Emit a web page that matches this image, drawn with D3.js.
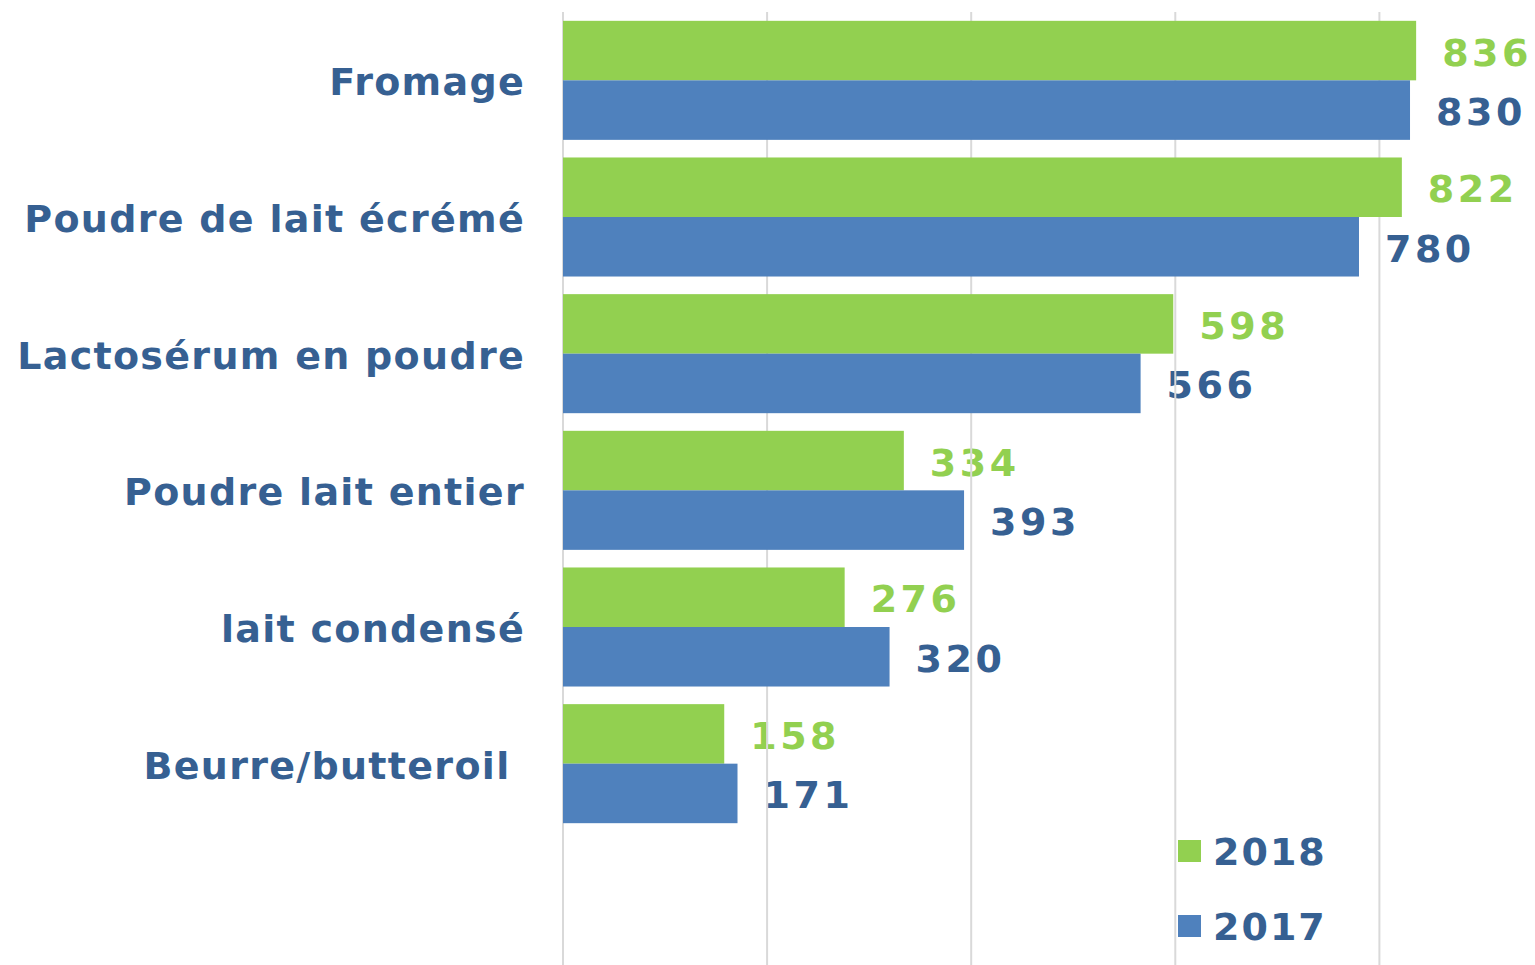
<!DOCTYPE html>
<html lang="fr">
<head>
<meta charset="UTF-8">
<title>Produits laitiers 2017-2018</title>
<script src="https://d3js.org/d3.v7.min.js"></script>
<style>
    body { margin: 0; background: #fff; }
    svg text { font-family: "DejaVu Sans", Verdana, sans-serif; font-weight: bold; white-space: pre; }
</style>
</head>
<body>
<svg id="chart" width="1535" height="965"></svg>
<script>
var categories = ['Fromage', 'Poudre de lait écrémé', 'Lactosérum en poudre', 'Poudre lait entier', 'lait condensé', 'Beurre/butteroil '];
var years = ['2018', '2017'];
var values2018 = [836, 822, 598, 334, 276, 158];
var values2017 = [830, 780, 566, 393, 320, 171];
var ticks = [0, 200, 400, 600, 800];

var colors = { '2018': '#92d050', '2017': '#4f81bd' };
var labelColors = { '2018': '#92d050', '2017': '#366092' };
var textColor = '#366092';

var svg = d3.select('#chart');

var x = d3.scaleLinear()
    .domain([0, 900])
    .range([563, 563 + 900 * 1.0205]);

var y = d3.scaleBand()
    .domain(categories)
    .range([12, 832])
    .paddingInner(0.129)
    .paddingOuter(0.0645);

var ySub = d3.scaleBand()
    .domain(years)
    .range([0, y.bandwidth()]);

var rows = categories.map(function(c, i) {
    return { cat: c, '2018': values2018[i], '2017': values2017[i] };
});

// category labels
svg.append('g').selectAll('text')
    .data(categories)
    .join('text')
    .attr('x', 525)
    .attr('y', function(d) { return y(d) + y.bandwidth() / 2 + 15; })
    .attr('text-anchor', 'end')
    .attr('fill', textColor)
    .attr('font-size', 38)
    .attr('letter-spacing', 1.3)
    .text(function(d) { return d; });

// value labels (drawn under the gridlines)
var valueGroups = svg.append('g').selectAll('g')
    .data(rows)
    .join('g')
    .attr('transform', function(d) { return 'translate(0,' + y(d.cat) + ')'; });

valueGroups.selectAll('text')
    .data(function(d) { return years.map(function(k) { return { key: k, value: d[k] }; }); })
    .join('text')
    .attr('x', function(d) { return x(d.value) + 26; })
    .attr('y', function(d) { return ySub(d.key) + ySub.bandwidth() / 2 + 15; })
    .attr('fill', function(d) { return labelColors[d.key]; })
    .attr('font-size', 38)
    .attr('letter-spacing', 3.5)
    .text(function(d) { return d.value; });

// gridlines
svg.append('g').selectAll('line')
    .data(ticks)
    .join('line')
    .attr('x1', function(d) { return x(d); })
    .attr('x2', function(d) { return x(d); })
    .attr('y1', 12)
    .attr('y2', 965)
    .attr('stroke', '#d9d9d9')
    .attr('stroke-width', 2);

// bars
var barGroups = svg.append('g').selectAll('g')
    .data(rows)
    .join('g')
    .attr('transform', function(d) { return 'translate(0,' + y(d.cat) + ')'; });

barGroups.selectAll('rect')
    .data(function(d) { return years.map(function(k) { return { key: k, value: d[k] }; }); })
    .join('rect')
    .attr('x', x(0))
    .attr('y', function(d) { return ySub(d.key); })
    .attr('width', function(d) { return x(d.value) - x(0); })
    .attr('height', ySub.bandwidth())
    .attr('fill', function(d) { return colors[d.key]; });

// legend
var legend = svg.append('g').selectAll('g')
    .data(years)
    .join('g')
    .attr('transform', function(d, i) { return 'translate(1178,' + (840 + i * 75) + ')'; });

legend.append('rect')
    .attr('width', 23)
    .attr('height', 22)
    .attr('fill', function(d) { return colors[d]; });

legend.append('text')
    .attr('x', 35)
    .attr('y', 25)
    .attr('fill', textColor)
    .attr('font-size', 38)
    .attr('letter-spacing', 2)
    .text(function(d) { return d; });
</script>
</body>
</html>
